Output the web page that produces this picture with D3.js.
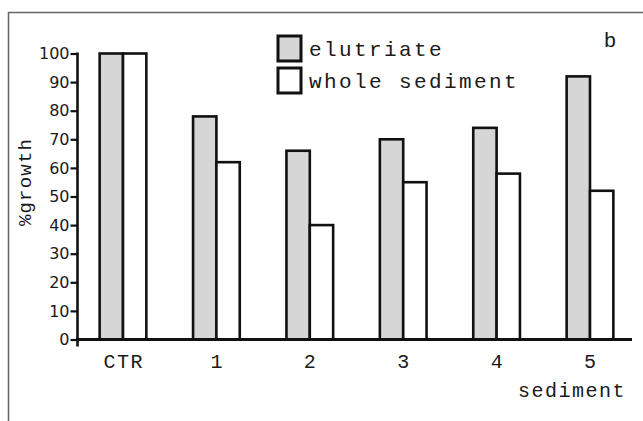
<!DOCTYPE html>
<html>
<head>
<meta charset="utf-8">
<script src="https://cdn.jsdelivr.net/npm/d3@7"></script>
<style>
  body { margin: 0; background: #fff; }
  svg { display: block; }
  .mono { font-family: "Liberation Mono", "Courier New", monospace; fill: #1a1a1a; }
  .ytick text { font-family: "DejaVu Sans", Verdana, sans-serif; font-size: 16px; fill: #1a1a1a; }
</style>
</head>
<body>
<div id="chart"></div>
<script>
// --- data ---
const categories = ['CTR', '1', '2', '3', '4', '5'];
const series = ['elutriate', 'whole sediment'];
const elutriate = [100, 78, 66, 70, 74, 92];
const wholeSediment = [100, 62, 40, 55, 58, 52];
const yTicks = [0, 10, 20, 30, 40, 50, 60, 70, 80, 90, 100];

const fills = { 'elutriate': '#d6d6d6', 'whole sediment': '#ffffff' };

const width = 643, height = 421;

const svg = d3.select('#chart').append('svg')
  .attr('width', width)
  .attr('height', height);

// outer frame (only top and left edges visible)
svg.append('path')
  .attr('d', 'M8.5,421 V12.5 H643')
  .attr('fill', 'none')
  .attr('stroke', '#666')
  .attr('stroke-width', 1.5);

// scales
const x0 = d3.scaleBand()
  .domain(categories)
  .range([76.3, 636.7])
  .paddingInner(0.5)
  .paddingOuter(0.25);

const x1 = d3.scaleBand()
  .domain(series)
  .range([0, x0.bandwidth()]);

const y = d3.scaleLinear()
  .domain([0, 100])
  .range([339.5, 53.5]);

const rows = categories.map((c, i) => ({
  cat: c,
  vals: [
    { key: 'elutriate', v: elutriate[i] },
    { key: 'whole sediment', v: wholeSediment[i] }
  ]
}));

// bars
const grp = svg.append('g').attr('class', 'bars')
  .selectAll('g')
  .data(rows).enter().append('g')
  .attr('transform', d => `translate(${x0(d.cat)},0)`);

grp.selectAll('rect')
  .data(d => d.vals)
  .enter().append('rect')
  .attr('x', d => x1(d.key))
  .attr('y', d => y(d.v))
  .attr('width', x1.bandwidth())
  .attr('height', d => y(0) - y(d.v))
  .attr('fill', d => fills[d.key])
  .attr('stroke', '#111')
  .attr('stroke-width', 2.6);

// y axis
const yAxis = svg.append('g')
  .attr('class', 'ytick')
  .attr('transform', 'translate(77.5,0)')
  .call(d3.axisLeft(y).tickValues(yTicks).tickSize(7).tickPadding(1));
yAxis.select('.domain').remove();
yAxis.selectAll('.tick line').attr('stroke', '#111').attr('stroke-width', 2.2);
yAxis.append('line')
  .attr('x1', 0).attr('x2', 0)
  .attr('y1', y(100) - 1).attr('y2', y(0) + 7)
  .attr('stroke', '#111').attr('stroke-width', 2.6);

// x axis baseline
svg.append('line')
  .attr('x1', 76).attr('x2', 632)
  .attr('y1', y(0)).attr('y2', y(0))
  .attr('stroke', '#111').attr('stroke-width', 3);

// x labels
const xAxis = svg.append('g')
  .attr('transform', `translate(0,${y(0)})`)
  .call(d3.axisBottom(x0).tickSize(0).tickPadding(0));
xAxis.select('.domain').remove();
xAxis.selectAll('text')
  .attr('class', 'mono')
  .attr('dy', null)
  .attr('y', 28)
  .attr('dx', 0.8)
  .style('font-size', '20px')
  .style('letter-spacing', '1.5px');

// axis titles
svg.append('text')
  .attr('class', 'mono')
  .attr('x', 626).attr('y', 397)
  .attr('text-anchor', 'end')
  .style('font-size', '20px')
  .style('letter-spacing', '1.5px')
  .text('sediment');

svg.append('text')
  .attr('class', 'mono')
  .attr('transform', 'translate(31,182) rotate(-90)')
  .attr('text-anchor', 'middle')
  .style('font-size', '19px')
  .style('letter-spacing', '1.2px')
  .text('%growth');

// panel letter
svg.append('text')
  .attr('class', 'mono')
  .attr('x', 610).attr('y', 47)
  .attr('text-anchor', 'middle')
  .style('font-size', '21px')
  .text('b');

// legend
const legend = svg.append('g')
  .selectAll('g')
  .data(series).enter().append('g')
  .attr('transform', (d, i) => `translate(278,${36 + i * 32})`);

legend.append('rect')
  .attr('width', 23).attr('height', 25)
  .attr('fill', d => fills[d])
  .attr('stroke', '#111')
  .attr('stroke-width', 3);

legend.append('text')
  .attr('class', 'mono')
  .attr('x', 31).attr('y', 20)
  .style('font-size', '21px')
  .style('letter-spacing', '2.4px')
  .text(d => d);
</script>
</body>
</html>
